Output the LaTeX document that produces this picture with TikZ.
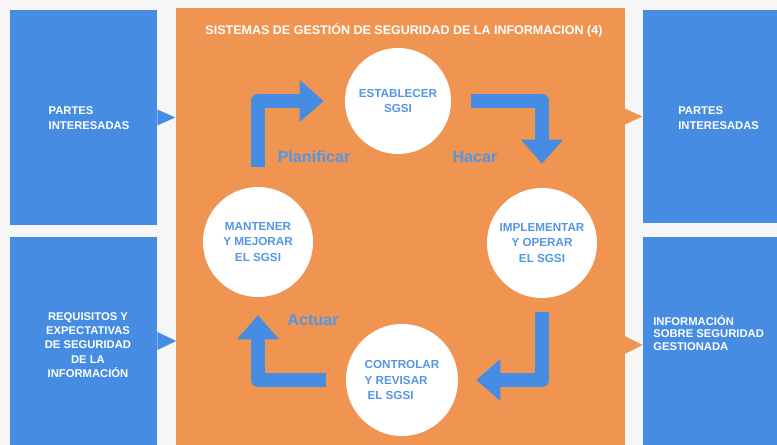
\documentclass[tikz,border=0pt]{standalone}
\usepackage{fontspec}
\setmainfont{Liberation Sans}
\usepackage{tikz}
\usetikzlibrary{positioning}
\usetikzlibrary{arrows.meta}
\definecolor{boxblue}{RGB}{70,140,226}
\definecolor{boxorange}{RGB}{240,148,82}
\definecolor{txtblue}{RGB}{84,150,228}
\definecolor{paper}{RGB}{246,246,246}
\tikzset{sidebox/.style={fill=boxblue, minimum width=3.675cm, inner sep=0pt}}
\tikzset{sidetext/.style={text=white, font=\bfseries\fontsize{8}{10.6}\selectfont, align=left, inner sep=0pt}}
\tikzset{stage/.style={circle, fill=white, text=txtblue, inner sep=0pt, font=\bfseries\fontsize{8.3}{10.7}\selectfont, align=center}}
\tikzset{cyc/.style={draw=boxblue, line width=0.35cm, line join=round, -{Triangle[width=1.05cm,length=0.6cm,line width=0pt]}}}
\tikzset{phase/.style={text=txtblue, font=\bfseries\fontsize{11.5}{13}\selectfont, inner sep=0pt}}

\begin{document}
\begin{tikzpicture}[x=0.025cm, y=-0.025cm]
\useasboundingbox (0,0) rectangle (777,445);
\fill[paper] (0,0) rectangle (777,445);
% side boxes
\node[sidebox, minimum height=5.375cm] (lt) at (83.5,117.5) {};
\node[sidebox, minimum height=5.2cm] (lb) at (83.5,341) {};
\node[sidebox, minimum width=3.35cm, minimum height=5.325cm] (rt) at (710,116.5) {};
\node[sidebox, minimum width=3.35cm, minimum height=5.2cm] (rb) at (710,341) {};
\node[sidetext] (ltt) at (89,118) {PARTES\\INTERESADAS};
\node[sidetext, align=center, font=\bfseries\fontsize{8}{10.2}\selectfont] (lbt) at (88,345) {REQUISITOS Y\\EXPECTATIVAS\\DE SEGURIDAD\\DE LA\\INFORMACIÓN};
\node[sidetext, anchor=west] (rtt) at (678,118) {PARTES\\INTERESADAS};
\node[sidetext, anchor=west, font=\bfseries\fontsize{8}{8.6}\selectfont] (rbt) at (653,333) {INFORMACIÓN\\SOBRE SEGURIDAD\\GESTIONADA};
% main box
\node[fill=boxorange, minimum width=11.225cm, minimum height=10.925cm, inner sep=0pt] (sgsi) at (400.5,226.5) {};
\node[text=white, font=\bfseries\fontsize{8.9}{10}\selectfont, inner sep=0pt] (title) at (404,30) {SISTEMAS DE GESTIÓN DE SEGURIDAD DE LA INFORMACION (4)};
% pointers
\fill[boxblue] (lt.east) ++(0,-8) -- ++(18,8) -- ++(-18,8) -- cycle;
\fill[boxblue] (lb.east) ++(0,-9) -- ++(19,9) -- ++(-19,9) -- cycle;
\fill[boxorange] (rt.west) -- ++(-18,-8) -- ++(0,16) -- cycle;
\fill[boxorange] (rb.west) ++(0,4) -- ++(-18,-9) -- ++(0,18) -- cycle;
% cycle
\node[stage, minimum size=2.65cm] (est) at (398,101) {ESTABLECER\\SGSI};
\node[stage, minimum size=2.75cm] (mant) at (258,242) {MANTENER\\Y MEJORAR\\EL SGSI};
\node[stage, minimum size=2.75cm] (impl) at (542,243) {IMPLEMENTAR\\Y OPERAR\\EL SGSI};
\node[stage, minimum size=2.8cm, align=left] (ctrl) at (402,380) {CONTROLAR\\Y REVISAR\\\hspace{2pt}EL SGSI};
\draw[cyc] ([yshift=0.5cm]mant.north) |- ([xshift=-0.525cm]est.west);
\draw[cyc] ([xshift=0.5cm]est.east) -| ([yshift=0.6cm]impl.north);
\draw[cyc] ([yshift=-0.35cm]impl.south) |- ([xshift=0.45cm]ctrl.east);
\draw[cyc] ([xshift=-0.5cm]ctrl.west) -| ([yshift=-0.45cm]mant.south);
\node[phase] (plan) at (314,157) {Planificar};
\node[phase] (hacer) at (475,157) {Hacar};
\node[phase] (act) at (313,320) {Actuar};
\end{tikzpicture}
\end{document}
